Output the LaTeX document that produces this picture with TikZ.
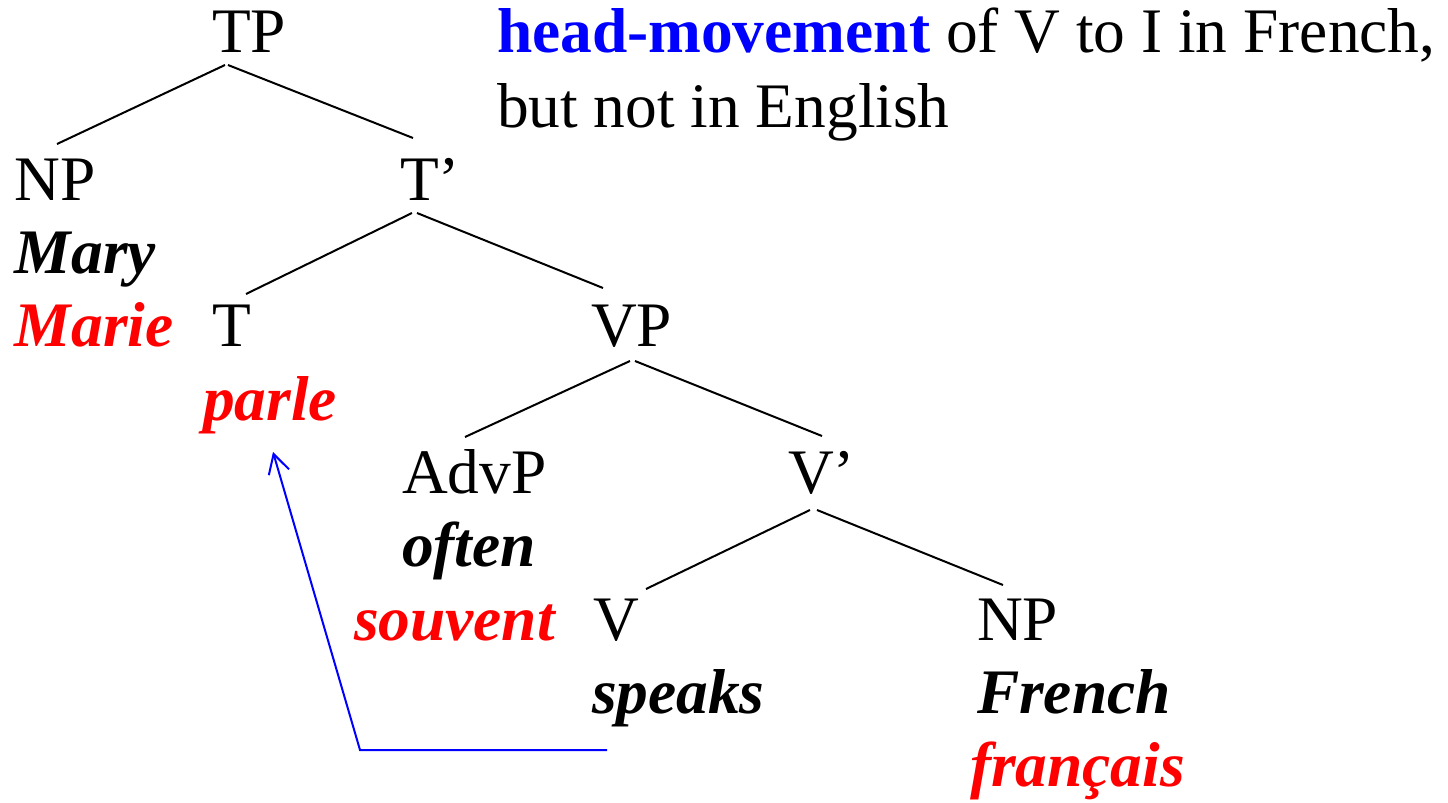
\documentclass[tikz,border=0pt]{standalone}
\usepackage{fontspec}
\setmainfont{Liberation Serif}
\usetikzlibrary{calc,arrows.meta}
\definecolor{frred}{RGB}{255,0,0}
\definecolor{mvblue}{RGB}{0,0,255}
\begin{document}
\begin{tikzpicture}[x=0.5pt,y=-0.5pt,
  lbl/.style={anchor=base west,inner sep=0pt,outer sep=0pt,font=\fontsize{31.7pt}{38pt}\selectfont},
  en/.style={lbl,font=\fontsize{31.7pt}{38pt}\selectfont\bfseries\itshape},
  fr/.style={en,text=frred},
  edge/.style={line width=1pt,black},
  move/.style={line width=1pt,mvblue,-{Straight Barb[length=9.5pt,width=10.5pt,line width=1pt]}}]
\useasboundingbox (0,0) rectangle (1448,803);
% header
\node[lbl] (head1) at (497,53) {\textbf{\color{mvblue}head-movement} of V to I in French,};
\node[lbl] (head2) at (497,127) {but not in English};
% tree labels
\node[lbl] (TP) at (212,53) {TP};
\node[lbl] (NPa) at (15,200) {NP};
\node[lbl] (Tbar) at (400,200) {T’};
\node[en] (mary) at (15,273) {Mary};
\node[fr] (marie) at (15,346) {Marie};
\node[lbl] (T) at (212,346) {T};
\node[lbl] (VP) at (591,346) {VP};
\node[fr] (parle) at (203,420) {parle};
\node[lbl] (AdvP) at (402,493) {AdvP};
\node[lbl] (Vbar) at (788,493) {V’};
\node[en] (often) at (402,566) {often};
\node[fr] (souvent) at (354,640) {souvent};
\node[lbl] (V) at (593,640) {V};
\node[lbl] (NPb) at (977,640) {NP};
\node[en] (speaks) at (592,713) {speaks};
\node[en] (french) at (977,713) {French};
\node[fr] (francais) at (970,786) {français};
% branches
\draw[edge] ($(TP.base west)+(13,12)$) -- ($(NPa.base west)+(42,-56)$);
\draw[edge] ($(TP.base west)+(16,12)$) -- ($(Tbar.base west)+(13,-62)$);
\draw[edge] ($(Tbar.base west)+(12,13)$) -- ($(T.base west)+(34,-52)$);
\draw[edge] ($(Tbar.base west)+(17,13)$) -- ($(VP.base west)+(12,-58)$);
\draw[edge] ($(VP.base west)+(39,15)$) -- ($(AdvP.base west)+(63,-56)$);
\draw[edge] ($(VP.base west)+(44,15)$) -- ($(Vbar.base west)+(34,-57)$);
\draw[edge] ($(Vbar.base west)+(22,17)$) -- ($(V.base west)+(53,-51)$);
\draw[edge] ($(Vbar.base west)+(29,17)$) -- ($(NPb.base west)+(26,-55)$);
% movement arrow
\coordinate (corner) at (360,750);
\draw[move] ($(speaks.base west)+(15,37)$) -- (corner) -- ($(parle.base west)+(70,32)$);
\end{tikzpicture}
\end{document}
